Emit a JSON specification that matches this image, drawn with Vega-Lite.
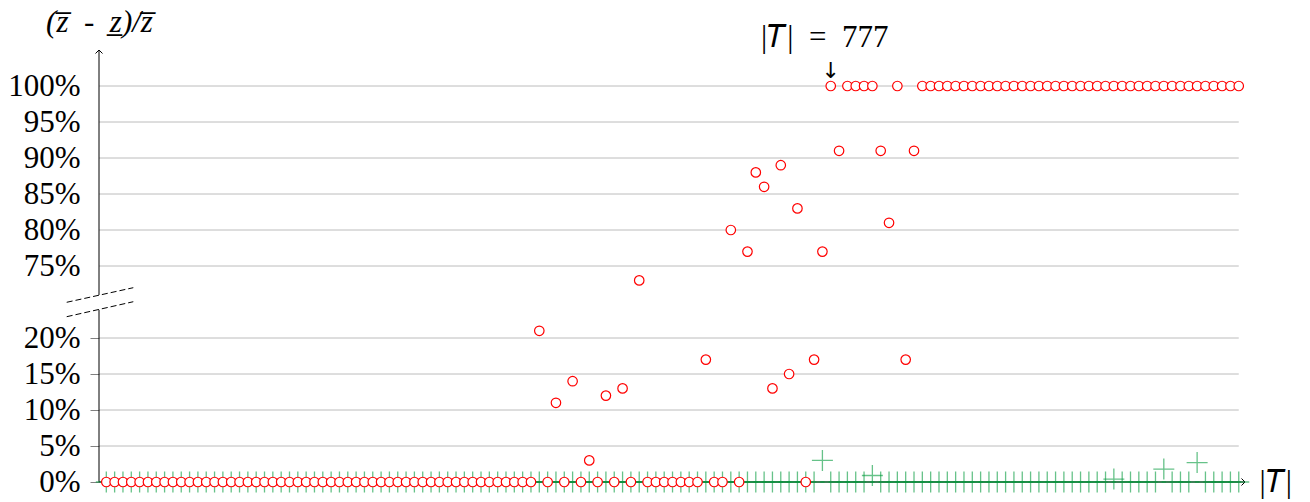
{
  "$schema": "https://vega.github.io/schema/vega-lite/v6.json",
  "width": 1146,
  "height": 432,
  "autosize": {"type": "none"},
  "padding": {"left": 99, "top": 50, "right": 65, "bottom": 20},
  "background": "white",
  "config": {"view": {"stroke": null}},
  "datasets": {
    "pts": [
      {"i":0,"red":0,"green":0},{"i":1,"red":0,"green":0},{"i":2,"red":0,"green":0},{"i":3,"red":0,"green":0},{"i":4,"red":0,"green":0},
      {"i":5,"red":0,"green":0},{"i":6,"red":0,"green":0},{"i":7,"red":0,"green":0},{"i":8,"red":0,"green":0},{"i":9,"red":0,"green":0},
      {"i":10,"red":0,"green":0},{"i":11,"red":0,"green":0},{"i":12,"red":0,"green":0},{"i":13,"red":0,"green":0},{"i":14,"red":0,"green":0},
      {"i":15,"red":0,"green":0},{"i":16,"red":0,"green":0},{"i":17,"red":0,"green":0},{"i":18,"red":0,"green":0},{"i":19,"red":0,"green":0},
      {"i":20,"red":0,"green":0},{"i":21,"red":0,"green":0},{"i":22,"red":0,"green":0},{"i":23,"red":0,"green":0},{"i":24,"red":0,"green":0},
      {"i":25,"red":0,"green":0},{"i":26,"red":0,"green":0},{"i":27,"red":0,"green":0},{"i":28,"red":0,"green":0},{"i":29,"red":0,"green":0},
      {"i":30,"red":0,"green":0},{"i":31,"red":0,"green":0},{"i":32,"red":0,"green":0},{"i":33,"red":0,"green":0},{"i":34,"red":0,"green":0},
      {"i":35,"red":0,"green":0},{"i":36,"red":0,"green":0},{"i":37,"red":0,"green":0},{"i":38,"red":0,"green":0},{"i":39,"red":0,"green":0},
      {"i":40,"red":0,"green":0},{"i":41,"red":0,"green":0},{"i":42,"red":0,"green":0},{"i":43,"red":0,"green":0},{"i":44,"red":0,"green":0},
      {"i":45,"red":0,"green":0},{"i":46,"red":0,"green":0},{"i":47,"red":0,"green":0},{"i":48,"red":0,"green":0},{"i":49,"red":0,"green":0},
      {"i":50,"red":0,"green":0},{"i":51,"red":0,"green":0},{"i":52,"red":21,"green":0},{"i":53,"red":0,"green":0},{"i":54,"red":11,"green":0},
      {"i":55,"red":0,"green":0},{"i":56,"red":14,"green":0},{"i":57,"red":0,"green":0},{"i":58,"red":3,"green":0},{"i":59,"red":0,"green":0},
      {"i":60,"red":12,"green":0},{"i":61,"red":0,"green":0},{"i":62,"red":13,"green":0},{"i":63,"red":0,"green":0},{"i":64,"red":73,"green":0},
      {"i":65,"red":0,"green":0},{"i":66,"red":0,"green":0},{"i":67,"red":0,"green":0},{"i":68,"red":0,"green":0},{"i":69,"red":0,"green":0},
      {"i":70,"red":0,"green":0},{"i":71,"red":0,"green":0},{"i":72,"red":17,"green":0},{"i":73,"red":0,"green":0},{"i":74,"red":0,"green":0},
      {"i":75,"red":80,"green":0},{"i":76,"red":0,"green":0},{"i":77,"red":77,"green":0},{"i":78,"red":88,"green":0},{"i":79,"red":86,"green":0},
      {"i":80,"red":13,"green":0},{"i":81,"red":89,"green":0},{"i":82,"red":15,"green":0},{"i":83,"red":83,"green":0},{"i":84,"red":0,"green":0},
      {"i":85,"red":17,"green":0},{"i":86,"red":77,"green":3},{"i":87,"red":100,"green":0},{"i":88,"red":91,"green":0},{"i":89,"red":100,"green":0},
      {"i":90,"red":100,"green":0},{"i":91,"red":100,"green":0},{"i":92,"red":100,"green":0.9},{"i":93,"red":91,"green":0},{"i":94,"red":81,"green":0},
      {"i":95,"red":100,"green":0},{"i":96,"red":17,"green":0},{"i":97,"red":91,"green":0},{"i":98,"red":100,"green":0},{"i":99,"red":100,"green":0},
      {"i":100,"red":100,"green":0},{"i":101,"red":100,"green":0},{"i":102,"red":100,"green":0},{"i":103,"red":100,"green":0},{"i":104,"red":100,"green":0},
      {"i":105,"red":100,"green":0},{"i":106,"red":100,"green":0},{"i":107,"red":100,"green":0},{"i":108,"red":100,"green":0},{"i":109,"red":100,"green":0},
      {"i":110,"red":100,"green":0},{"i":111,"red":100,"green":0},{"i":112,"red":100,"green":0},{"i":113,"red":100,"green":0},{"i":114,"red":100,"green":0},
      {"i":115,"red":100,"green":0},{"i":116,"red":100,"green":0},{"i":117,"red":100,"green":0},{"i":118,"red":100,"green":0},{"i":119,"red":100,"green":0},
      {"i":120,"red":100,"green":0},{"i":121,"red":100,"green":0.4},{"i":122,"red":100,"green":0},{"i":123,"red":100,"green":0},{"i":124,"red":100,"green":0},
      {"i":125,"red":100,"green":0},{"i":126,"red":100,"green":0},{"i":127,"red":100,"green":1.8},{"i":128,"red":100,"green":0},{"i":129,"red":100,"green":0},
      {"i":130,"red":100,"green":0},{"i":131,"red":100,"green":2.7},{"i":132,"red":100,"green":0},{"i":133,"red":100,"green":0},{"i":134,"red":100,"green":0},
      {"i":135,"red":100,"green":0},{"i":136,"red":100,"green":0}
    ],
    "ticks": [{"v":0},{"v":5},{"v":10},{"v":15},{"v":20},{"v":75},{"v":80},{"v":85},{"v":90},{"v":95},{"v":100}],
    "yaxis": [{"a":0,"b":38.2},{"a":55.8,"b":105}],
    "breaks": [
      {"xa":-4.756,"ya":47.15,"xb":3.242,"yb":64.38},
      {"xa":-4.756,"ya":30.15,"xb":3.242,"yb":47.85}
    ],
    "note": [{"i":87,"v":100,"label":"|\ud835\udc47|\u2002=\u2002777","arrow":"\u2193"}]
  },
  "encoding": {
    "x": {"type": "quantitative",
      "scale": {"domain": [-0.877, 136.75], "nice": false, "zero": false},
      "axis": {
        "domain": false, "ticks": false, "labels": false, "grid": false,
        "title": "|\ud835\udc47|", "titleX": 1160, "titleY": 0, "titleAngle": 0,
        "titleAlign": "left", "titleBaseline": "middle", "titleFont": "Liberation Serif",
        "titleFontSize": 31, "titleFontWeight": "normal", "titleColor": "black"
      }
    },
    "y": {"type": "quantitative",
      "scale": {"domain": [0, 22, 73, 105], "range": [432, 273.6, 230.4, 0], "nice": false, "zero": false},
      "axis": {
        "values": [0,5,10,15,20,75,80,85,90,95,100],
        "labelExpr": "datum.value + '%'",
        "domain": false, "grid": false, "ticks": true, "tickSize": 9, "tickWidth": 1,
        "tickColor": {"condition": {"test": "datum.value <= 20", "value": "#808080"}, "value": "rgba(0,0,0,0)"},
        "labelPadding": 10, "labelFont": "Liberation Serif", "labelFontSize": 31, "labelColor": "black",
        "labelOverlap": false, "labelFlush": false, "labelBound": false,
        "title": "(z\u0305\u2002-\u2002z\u0332)/z\u0305", "titleAngle": 0, "titleX": 0, "titleY": -28,
        "titleAlign": "center", "titleBaseline": "middle", "titleFont": "Liberation Serif",
        "titleFontSize": 31, "titleFontStyle": "italic", "titleFontWeight": "normal", "titleColor": "black"
      }
    }
  },
  "layer": [
    {
      "data": {"name": "ticks"},
      "mark": {"type": "rule", "stroke": "#bcbcbc", "strokeWidth": 1},
      "encoding": {
        "y": {"field": "v"},
        "x": {"datum": -0.877},
        "x2": {"datum": 136}
      }
    },
    {
      "data": {"values": [{"s": 0}]},
      "mark": {"type": "rule", "stroke": "black", "strokeWidth": 1},
      "encoding": {
        "y": {"datum": 0},
        "x": {"datum": -0.877},
        "x2": {"datum": 136.75}
      }
    },
    {
      "data": {"values": [{"s": 0}]},
      "mark": {"type": "point", "shape": "M-1,-1L0,0L-1,1", "size": 49, "filled": false, "stroke": "black", "strokeWidth": 1, "opacity": 1},
      "encoding": {
        "y": {"datum": 0},
        "x": {"datum": 136.75}
      }
    },
    {
      "data": {"name": "yaxis"},
      "mark": {"type": "rule", "stroke": "black", "strokeWidth": 1},
      "encoding": {
        "y": {"field": "a"},
        "y2": {"field": "b"},
        "x": {"datum": -0.877}
      }
    },
    {
      "data": {"values": [{"s": 0}]},
      "mark": {"type": "point", "shape": "M-1,1L0,0L1,1", "size": 49, "filled": false, "stroke": "black", "strokeWidth": 1, "opacity": 1},
      "encoding": {
        "y": {"datum": 105},
        "x": {"datum": -0.877}
      }
    },
    {
      "data": {"name": "breaks"},
      "mark": {"type": "rule", "stroke": "black", "strokeWidth": 1, "strokeDash": [6, 3]},
      "encoding": {
        "x": {"field": "xa"},
        "x2": {"field": "xb"},
        "y": {"field": "ya"},
        "y2": {"field": "yb"}
      }
    },
    {
      "data": {"name": "pts"},
      "mark": {"type": "point", "shape": "M-1,0L1,0M0,-1L0,1", "size": 441, "filled": false, "stroke": "#009a3a", "strokeWidth": 1.3, "strokeOpacity": 0.6, "opacity": 1},
      "encoding": {
        "x": {"field": "i"},
        "y": {"field": "green"}
      }
    },
    {
      "data": {"name": "pts"},
      "mark": {"type": "point", "shape": "circle", "size": 90, "filled": true, "fill": "white", "stroke": "#ff0000", "strokeWidth": 1.2, "opacity": 1, "fillOpacity": 1},
      "encoding": {
        "x": {"field": "i"},
        "y": {"field": "red"}
      }
    },
    {
      "data": {"name": "note"},
      "mark": {"type": "text", "font": "Liberation Serif", "fontSize": 31, "dy": -48, "dx": -6, "align": "center", "baseline": "middle", "color": "black"},
      "encoding": {
        "x": {"field": "i"},
        "y": {"field": "v"},
        "text": {"field": "label"}
      }
    },
    {
      "data": {"name": "note"},
      "mark": {"type": "text", "font": "DejaVu Sans", "fontSize": 22, "dy": -15, "align": "center", "baseline": "middle", "color": "black"},
      "encoding": {
        "x": {"field": "i"},
        "y": {"field": "v"},
        "text": {"field": "arrow"}
      }
    }
  ]
}
